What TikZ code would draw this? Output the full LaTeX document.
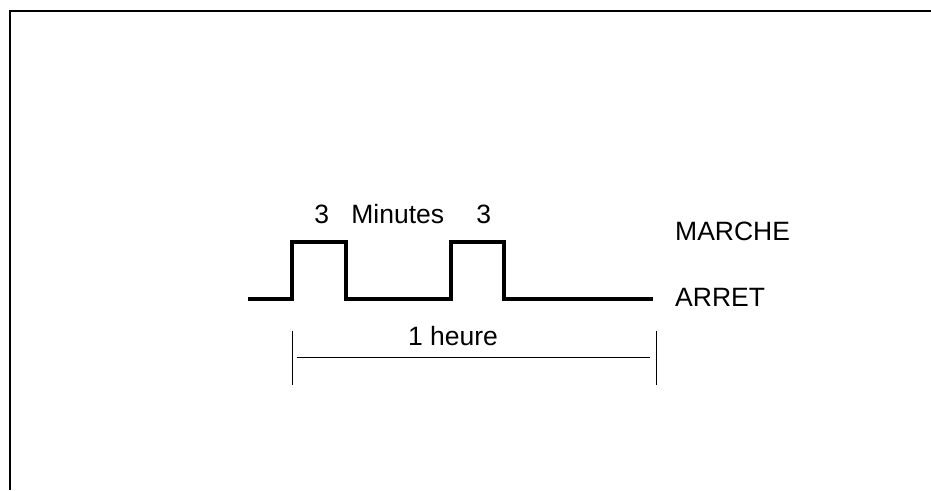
\documentclass[tikz,border=0pt]{standalone}
\usepackage{fontspec}
\setmainfont{Liberation Sans}
\usetikzlibrary{positioning}

\begin{document}
\begin{tikzpicture}[x=1pt,y=-1pt,
    signal/.style={line width=3.6pt, line join=miter},
    lbl/.style={font=\fontsize{26.5}{31}\selectfont, inner sep=0pt},
    dimline/.style={line width=1pt}]
  \useasboundingbox (0,0) rectangle (931,490);
  % cadre
  \draw[line width=2.6pt] (931,11) -- (10,11) -- (10,490);
  % signal marche / arret
  \coordinate (sA) at (248,299);
  \coordinate (sB) at (653,299);
  \draw[signal] (sA) -- (292,299) -- (292,242) -- (346,242) -- (346,299)
    -- (451,299) -- (451,242) -- (504,242) -- (504,299) -- (sB);
  \node[lbl, anchor=base] (t1) at (321.7,223.3) {3};
  \node[lbl, anchor=base] (tmin) at (397.8,223.3) {Minutes};
  \node[lbl, anchor=base] (t2) at (483.7,223.3) {3};
  \node[lbl, anchor=base west] (marche) at (675,240.7) {MARCHE};
  \node[lbl, anchor=base west] (arret) at (675,306) {ARRET};
  % cote 1 heure
  \coordinate (dL) at (292,357.7);
  \coordinate (dR) at (656,357.7);
  \foreach \p in {dL,dR}
    \draw[dimline] ([yshift=27pt]\p) -- ([yshift=-27pt]\p);
  \draw[dimline, shorten <=5pt, shorten >=6pt] (dL) -- (dR);
  \node[lbl, anchor=base] (heure) at (453,345) {1 heure};
\end{tikzpicture}
\end{document}
